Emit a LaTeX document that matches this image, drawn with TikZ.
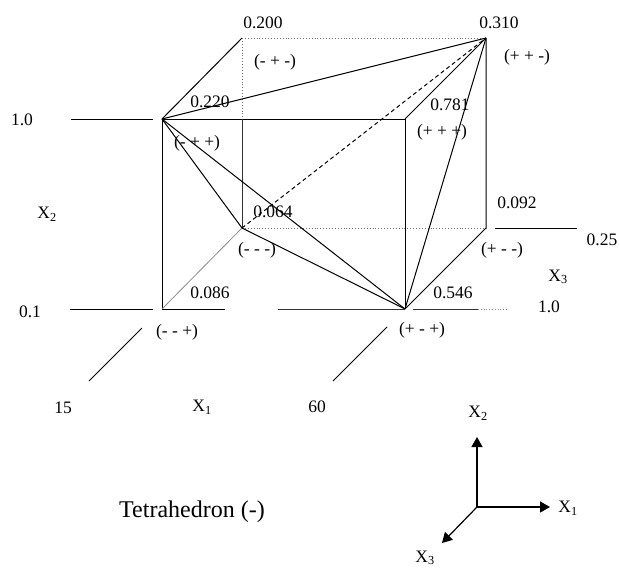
\documentclass[tikz,border=0pt]{standalone}
\usepackage{fontspec}
\setmainfont{Liberation Serif}
\usetikzlibrary{arrows.meta}
\begin{document}
\begin{tikzpicture}[x=1pt,y=-1pt,
  edge/.style={line width=1pt, black},
  thinedge/.style={line width=0.8pt, black!80},
  hidden/.style={line width=0.9pt, black!55, dotted},
  faint/.style={line width=0.8pt, black!45},
  dash3/.style={line width=1pt, dash pattern=on 4pt off 3pt},
  lbl/.style={inner sep=0pt, font=\fontsize{17.5}{20}\selectfont},
  title/.style={inner sep=0pt, font=\fontsize{24}{28}\selectfont},
  axarrow/.style={line width=1.2pt, -{Triangle[length=10pt,width=11pt]}}
]
\useasboundingbox[fill=white] (0,0) rectangle (620,570);
% cube vertices
\coordinate (mpp) at (162,119);
\coordinate (ppp) at (405,119);
\coordinate (mmp) at (162,309);
\coordinate (pmp) at (405,309);
\coordinate (mpm) at (242,38);
\coordinate (ppm) at (486,38);
\coordinate (mmm) at (242,228);
\coordinate (pmm) at (486,228);
\coordinate (bl) at (242,119);
% cube edges
\draw[edge] (mpp) -- (ppp) -- (pmp);
\draw[edge] (mpp) -- (mmp);
\draw[edge] (mpm) -- (mpp);
\draw[edge] (ppm) -- (ppp);
\draw[edge] (ppm) -- (pmm) -- (pmp);
\draw[hidden] (mpm) -- (ppm);
\draw[hidden] (mpm) -- (bl);
\draw[thinedge] (bl) -- (mmm);
\draw[hidden] (mmm) -- (pmm);
\draw[faint] (mmm) -- (mmp);
% tetrahedron edges
\draw[edge] (mpp) -- (ppm);
\draw[edge] (mpp) -- (pmp);
\draw[edge] (mpp) -- (mmm) -- (pmp);
\draw[edge] (ppm) -- (pmp);
\draw[dash3] (mmm) -- (ppm);
% extension lines
\coordinate (e1a) at (71,119);  \coordinate (e1b) at (153,119);
\coordinate (e2a) at (70,309);  \coordinate (e2b) at (153,309);
\coordinate (e3b) at (225,309);
\coordinate (e4a) at (278,309);
\coordinate (e5a) at (413,309); \coordinate (e5b) at (478,309); \coordinate (e5c) at (507,309);
\coordinate (e6a) at (495,228); \coordinate (e6b) at (577,228);
\coordinate (d1a) at (89,381);  \coordinate (d1b) at (142,328);
\coordinate (d2a) at (333,381); \coordinate (d2b) at (387,327);
\draw[edge] (e1a) -- (e1b);
\draw[edge] (e2a) -- (e2b);
\draw[edge] (mmp) -- (e3b);
\draw[thinedge] (e4a) -- (pmp);
\draw[thinedge] (e5a) -- (e5b);
\draw[faint, dotted] (e5b) -- (e5c);
\draw[edge] (e6a) -- (e6b);
\draw[edge] (d1a) -- (d1b);
\draw[edge] (d2a) -- (d2b);
% labels
\node[lbl] (l0200) at (263,23) {0.200};
\node[lbl] (l0310) at (499,23) {0.310};
\node[lbl] (lmpm) at (275,62) {(- + -)};
\node[lbl] (lppm) at (527,57) {(+ + -)};
\node[lbl] (l0220) at (210,102) {0.220};
\node[lbl] (lmpp) at (197,143) {(- + +)};
\node[lbl] (l0781) at (450,105) {0.781};
\node[lbl] (lppp) at (442,132) {(+ + +)};
\node[lbl] (l10a) at (22,120) {1.0};
\node[lbl] (lx2) at (47,214) {X\textsubscript{2}};
\node[lbl] (l0064) at (273,212) {0.064};
\node[lbl] (lmmm) at (257,250) {(- - -)};
\node[lbl] (l0092) at (517,203) {0.092};
\node[lbl] (l025) at (602,240) {0.25};
\node[lbl] (lpmm) at (502,250) {(+ - -)};
\node[lbl] (lx3) at (558,277) {X\textsubscript{3}};
\node[lbl] (l0086) at (210,293) {0.086};
\node[lbl] (l0546) at (453,293) {0.546};
\node[lbl] (l01) at (30,312) {0.1};
\node[lbl] (l10b) at (549,307) {1.0};
\node[lbl] (lmmp) at (177,332) {(- - +)};
\node[lbl] (lpmp) at (422,330) {(+ - +)};
\node[lbl] (l15) at (63,408) {15};
\node[lbl] (lx1) at (202,407) {X\textsubscript{1}};
\node[lbl] (l60) at (317,407) {60};
% axes
\coordinate (o) at (477,507);
\coordinate (ax2) at (477,437);
\coordinate (ax1) at (550,507);
\coordinate (ax3) at (442,543);
\draw[axarrow] (o) -- (ax2);
\draw[axarrow] (o) -- (ax1);
\draw[axarrow] (o) -- (ax3);
\node[lbl] (tx2) at (478,413) {X\textsubscript{2}};
\node[lbl] (tx1) at (568,508) {X\textsubscript{1}};
\node[lbl] (tx3) at (425,558) {X\textsubscript{3}};
\node[title] (ttl) at (192,512) {Tetrahedron (-)};
\end{tikzpicture}
\end{document}
